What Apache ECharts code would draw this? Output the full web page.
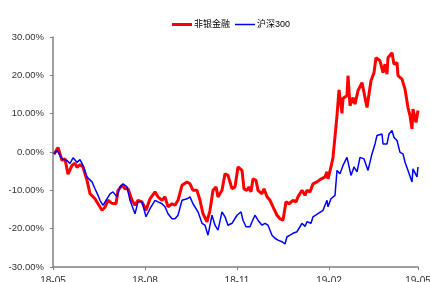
<!DOCTYPE html>
<html>
<head>
<meta charset="utf-8">
<script src="https://cdn.jsdelivr.net/npm/echarts@6/dist/echarts.min.js"></script>
<style>
html,body{margin:0;padding:0;background:#fff;}
#chart{width:430px;height:282px;}
</style>
</head>
<body>
<div id="chart"></div>
<script>
const seriesNames = ['非银金融', '沪深300'];
const tickDates = ['2018-05-01','2018-08-01','2018-11-01','2019-02-01','2019-05-01'];
const tickLabels = ['18-05','18-08','18-11','19-02','19-05'];
const yTicks = [-30, -20, -10, 0, 10, 20, 30];

const redDates = ['2018-05-02','2018-05-06','2018-05-10','2018-05-13','2018-05-16','2018-05-20','2018-05-23','2018-05-25','2018-05-28','2018-05-31',
'2018-06-04','2018-06-07','2018-06-12','2018-06-15','2018-06-19','2018-06-22','2018-06-25','2018-06-29','2018-07-03','2018-07-05',
'2018-07-09','2018-07-12','2018-07-15','2018-07-19','2018-07-22','2018-07-25','2018-07-29','2018-08-02','2018-08-06','2018-08-11',
'2018-08-14','2018-08-18','2018-08-21','2018-08-24','2018-08-28','2018-08-31','2018-09-03','2018-09-07','2018-09-12','2018-09-15',
'2018-09-18','2018-09-22','2018-09-25','2018-09-28','2018-10-02','2018-10-05','2018-10-08','2018-10-11','2018-10-13','2018-10-17',
'2018-10-20','2018-10-23','2018-10-27','2018-10-30','2018-11-02','2018-11-06','2018-11-08','2018-11-11','2018-11-13','2018-11-15',
'2018-11-17','2018-11-20','2018-11-22','2018-11-26','2018-11-28','2018-12-01','2018-12-04','2018-12-07','2018-12-11','2018-12-14',
'2018-12-17','2018-12-20','2018-12-23','2018-12-27','2018-12-30','2019-01-01','2019-01-05','2019-01-08','2019-01-10','2019-01-13',
'2019-01-16','2019-01-20','2019-01-23','2019-01-28','2019-01-30','2019-01-31','2019-02-03','2019-02-05','2019-02-07','2019-02-09',
'2019-02-11','2019-02-14','2019-02-15','2019-02-19','2019-02-20','2019-02-22','2019-02-25','2019-02-27','2019-03-02','2019-03-06',
'2019-03-08','2019-03-11','2019-03-13','2019-03-15','2019-03-18','2019-03-20','2019-03-24','2019-03-27','2019-03-29','2019-03-31',
'2019-04-01','2019-04-05','2019-04-07','2019-04-10','2019-04-11','2019-04-15','2019-04-18','2019-04-21','2019-04-23','2019-04-25',
'2019-04-26','2019-04-29','2019-05-01'];
const redValues = [-0.6,1.2,-2.2,-1.8,-5.8,-3.5,-2.9,-4.0,-3.3,-3.9,
-7.4,-10.9,-12.2,-13.5,-15.2,-14.4,-12.6,-13.4,-13.5,-10.0,
-8.7,-9.6,-9.6,-12.6,-13.9,-12.6,-13.0,-15.2,-12.2,-10.4,
-11.7,-12.6,-11.7,-14.3,-13.5,-13.9,-12.6,-8.7,-7.8,-8.3,
-10.0,-10.0,-12.6,-16.1,-18.2,-15.2,-10.0,-9.1,-11.7,-10.0,
-5.7,-6.1,-9.6,-9.1,-3.9,-4.8,-9.6,-10.0,-9.1,-10.4,
-7.0,-7.4,-10.0,-10.9,-9.6,-11.7,-12.6,-14.3,-16.5,-17.4,
-17.8,-13.0,-13.5,-12.6,-13.0,-11.7,-10.0,-11.3,-10.0,-10.4,
-8.3,-7.8,-7.2,-6.5,-5.2,-7.0,-3.9,-1.4,-0.9,9.5,
16.2,10.1,14.0,14.7,19.9,12.1,14.2,12.5,16.0,18.1,
15.5,11.6,11.2,18.6,20.7,24.6,23.8,20.7,22.9,20.3,
24.6,25.9,22.9,23.3,19.9,19.0,16.4,11.6,9.5,6.0,
11.2,7.7,10.8];

const blueDates = ['2018-05-02','2018-05-05','2018-05-10','2018-05-15','2018-05-18','2018-05-21','2018-05-25','2018-05-28','2018-05-31','2018-06-04',
'2018-06-09','2018-06-12','2018-06-15','2018-06-17','2018-06-20','2018-06-24','2018-06-27','2018-06-30','2018-07-04','2018-07-07',
'2018-07-10','2018-07-14','2018-07-17','2018-07-22','2018-07-25','2018-07-29','2018-08-02','2018-08-06','2018-08-11','2018-08-14',
'2018-08-18','2018-08-21','2018-08-24','2018-08-28','2018-08-31','2018-09-03','2018-09-07','2018-09-12','2018-09-15','2018-09-18',
'2018-09-23','2018-09-27','2018-09-30','2018-10-03','2018-10-07','2018-10-10','2018-10-13','2018-10-17','2018-10-20','2018-10-23',
'2018-10-27','2018-11-01','2018-11-05','2018-11-07','2018-11-10','2018-11-14','2018-11-16','2018-11-19','2018-11-22','2018-11-26',
'2018-11-29','2018-12-02','2018-12-06','2018-12-09','2018-12-12','2018-12-16','2018-12-19','2018-12-21','2018-12-24','2018-12-27',
'2018-12-31','2019-01-03','2019-01-05','2019-01-08','2019-01-10','2019-01-14','2019-01-16','2019-01-21','2019-01-26','2019-01-30',
'2019-01-31','2019-02-03','2019-02-07','2019-02-09','2019-02-12','2019-02-15','2019-02-19','2019-02-23','2019-02-26','2019-03-01',
'2019-03-04','2019-03-08','2019-03-12','2019-03-16','2019-03-19','2019-03-21','2019-03-26','2019-03-27','2019-03-31','2019-04-02',
'2019-04-05','2019-04-07','2019-04-10','2019-04-13','2019-04-16','2019-04-18','2019-04-21','2019-04-25','2019-04-26','2019-04-30',
'2019-05-01'];
const blueValues = [-0.5,0.4,-1.8,-2.2,-3.0,-1.5,-2.7,-2.0,-3.5,-6.5,
-7.8,-9.6,-11.3,-12.6,-13.9,-12.2,-10.9,-10.4,-11.7,-9.1,
-8.3,-9.1,-12.6,-16.1,-13.0,-13.0,-16.9,-14.8,-12.6,-13.0,
-13.5,-14.3,-16.1,-17.4,-17.4,-16.5,-12.6,-12.2,-11.7,-13.5,
-15.6,-18.6,-19.1,-21.7,-16.5,-19.1,-20.4,-15.6,-16.9,-19.1,
-18.6,-16.5,-15.6,-17.8,-19.5,-19.5,-18.2,-16.5,-17.8,-19.1,
-18.6,-19.1,-21.7,-22.5,-23.0,-23.4,-24.0,-22.1,-21.7,-21.2,
-20.8,-19.5,-18.6,-19.4,-18.2,-18.6,-16.9,-16.1,-15.2,-12.6,
-14.3,-12.2,-11.3,-4.8,-5.7,-3.5,-1.4,-6.1,-3.9,-5.2,
-1.4,-1.8,-4.8,-0.5,2.1,4.3,4.7,2.1,2.1,4.7,
5.6,3.8,3.0,-0.1,-0.5,-2.6,-4.8,-7.8,-4.4,-6.5,
-3.9];

function parseLocal(s) {
  const p = s.split('-').map(Number);
  return new Date(p[0], p[1] - 1, p[2]).getTime();
}
const tickTimes = tickDates.map(parseLocal);

const chart = echarts.init(document.getElementById('chart'), null, {renderer: 'canvas'});
const font = 'Arial, "Liberation Sans", "Noto Sans CJK SC", sans-serif';

chart.setOption({
  animation: false,
  backgroundColor: '#ffffff',
  textStyle: {fontFamily: font},
  legend: {
    data: [
      {name: seriesNames[0], icon: 'path://M0,0H20V3H0Z'},
      {name: seriesNames[1], icon: 'path://M0,0H20V1.5H0Z'}
    ],
    left: 167,
    top: 15,
    itemWidth: 20,
    itemHeight: 10,
    itemGap: 5,
    symbolKeepAspect: true,
    textStyle: {fontSize: 9, color: '#000', fontFamily: font, padding: [0, 0, 0, -3]}
  },
  grid: {left: 53, right: 12, top: 37, bottom: 15, containLabel: false, outerBoundsMode: 'none'},
  xAxis: {
    type: 'value',
    min: tickTimes[0],
    max: tickTimes[tickTimes.length - 1],
    scale: true,
    splitLine: {show: false},
    axisLine: {show: true, onZero: false, lineStyle: {color: '#808080', width: 1.5}},
    axisTick: {show: true, inside: false, length: 3, customValues: tickTimes, lineStyle: {color: '#808080', width: 1}},
    axisLabel: {
      customValues: tickTimes,
      fontSize: 10,
      color: '#333',
      margin: 9,
      showMinLabel: true,
      showMaxLabel: true,
      hideOverlap: false,
      formatter: function (v) {
        for (let i = 0; i < tickTimes.length; i++) {
          if (Math.abs(tickTimes[i] - v) < 43200000) return tickLabels[i];
        }
        return '';
      }
    }
  },
  yAxis: {
    type: 'value',
    min: yTicks[0],
    max: yTicks[yTicks.length - 1],
    interval: 10,
    splitLine: {show: false},
    axisLine: {show: true, lineStyle: {color: '#808080', width: 1.5}},
    axisTick: {show: true, length: 3, lineStyle: {color: '#808080', width: 1}},
    axisLabel: {
      fontSize: 9.5,
      color: '#333',
      margin: 9,
      formatter: function (v) { return v.toFixed(2) + '%'; }
    }
  },
  series: [
    {
      name: seriesNames[0],
      type: 'line',
      symbol: 'none',
      data: redDates.map((d, i) => [parseLocal(d), redValues[i]]),
      lineStyle: {color: '#ff0000', width: 3},
      itemStyle: {color: '#ff0000'}
    },
    {
      name: seriesNames[1],
      type: 'line',
      symbol: 'none',
      data: blueDates.map((d, i) => [parseLocal(d), blueValues[i]]),
      lineStyle: {color: '#0000ff', width: 1.5},
      itemStyle: {color: '#0000ff'}
    }
  ]
});
</script>
</body>
</html>
